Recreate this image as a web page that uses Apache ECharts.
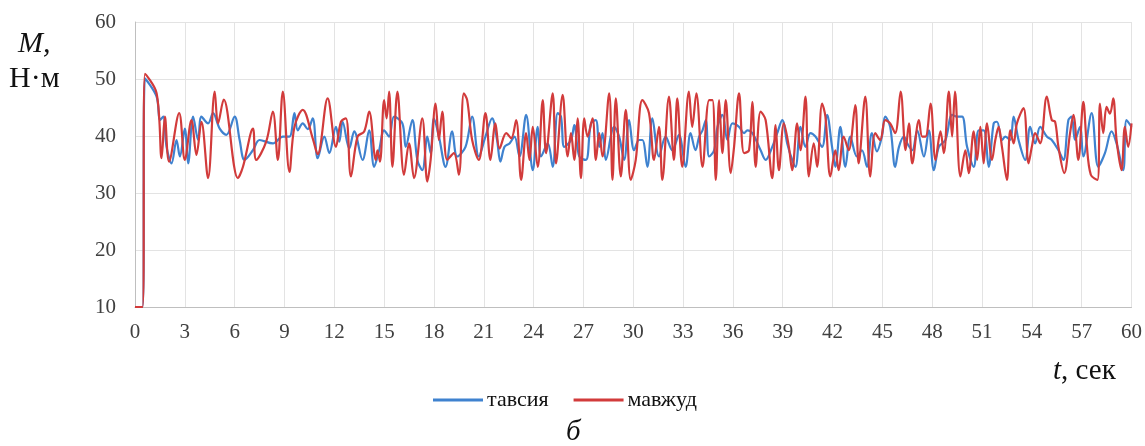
<!DOCTYPE html>
<html>
<head>
<meta charset="utf-8">
<script src="https://cdn.jsdelivr.net/npm/echarts@6/dist/echarts.min.js"></script>
<style>
html,body{margin:0;padding:0;background:#fff;}
#c{width:1145px;height:446px;}
</style>
</head>
<body>
<div id="c"></div>
<script>
const xTicks = [0,3,6,9,12,15,18,21,24,27,30,33,36,39,42,45,48,51,54,57,60];
const yTicks = [10,20,30,40,50,60];
const seriesNames = ['тавсия','мавжуд'];

const tBlue = [0,0.45,0.6,1.3,1.5,1.7,1.9,2.2,2.5,2.7,3.0,3.2,3.5,3.8,4.0,4.4,4.7,5.1,5.5,6.0,6.3,6.6,7.1,7.5,8.3,8.9,9.3,9.6,9.8,10.1,10.4,10.7,11.0,11.4,11.7,12.1,12.3,12.5,12.9,13.2,13.7,14.1,14.4,14.7,15.0,15.3,15.6,16.1,16.3,16.7,17.0,17.3,17.6,17.8,18.0,18.3,18.7,19.1,19.4,19.9,20.3,20.7,21.1,21.5,21.8,22.0,22.25,22.55,22.85,23.15,23.55,23.95,24.25,24.45,24.85,25.15,25.45,25.65,25.85,26.25,26.45,26.75,27.15,27.45,27.75,27.95,28.15,28.35,28.85,29.15,29.45,29.75,30.05,30.35,30.55,30.85,31.15,31.55,31.95,32.35,32.75,33.15,33.45,33.75,33.97,34.17,34.37,34.57,34.87,35.07,35.37,35.67,35.97,36.37,36.67,36.87,37.17,37.67,37.97,38.37,38.67,38.97,39.27,39.57,39.77,40.07,40.37,40.67,40.97,41.37,41.67,41.97,42.17,42.47,42.77,43.07,43.47,43.77,44.07,44.37,44.67,44.97,45.17,45.47,45.77,46.0,46.3,46.5,46.8,47.1,47.5,47.8,48.1,48.4,48.8,49.2,49.5,49.8,50.1,50.5,50.8,51.1,51.4,51.7,51.9,52.2,52.4,52.7,52.9,53.2,53.6,53.9,54.2,54.5,54.9,55.2,55.6,55.9,56.2,56.4,56.6,56.9,57.1,57.6,58.0,58.4,58.8,59.1,59.5,59.7,60];
const vBlue = [10,10,50.1,46.9,42.8,43.4,38.1,35.2,39.3,36.4,41.3,35.2,43.4,39.3,43.4,42.2,44,41.3,40.2,43.4,39.3,35.8,37.5,39.3,38.7,39.9,39.9,44,41,42.2,41.2,43.1,36.1,39.9,37,41.6,39,42.5,37.8,40.8,35.8,41,34.6,37.5,41,39.9,43.4,42.2,38.1,42.8,35.8,34,39.9,37,43.1,39.9,34.6,40.8,36.4,38.1,43.4,36.4,39.9,43.1,39.3,35.5,38.1,38.7,39.9,36.4,43.7,34,41.6,36.4,38.7,34.6,44,43.4,38.1,39.3,41.9,36.4,35.8,42.2,42.8,38.1,40.5,35.8,41.6,39.9,35.8,42.8,37.5,39.3,39.3,34.6,43.1,36.4,39.9,37.5,40.2,34.6,40.5,37.5,39.9,41,42.8,36.4,37.5,41.6,43.7,39.3,42.2,41.6,40.5,41,40.5,37.5,35.8,38.1,40.5,42.8,38.7,35.8,34.6,41.6,38.1,40.5,39.9,38.1,43.7,38.1,34.6,41.6,34.6,39.9,36.4,37.5,34.6,40.5,37.3,39.9,43.4,41.6,34.6,38.1,39.9,38.7,37.5,41,36.4,41,34,38.1,39.3,43.7,43.4,43.4,38.1,34.6,41,41,34.6,42.2,42.5,39.3,39.9,39.3,43.4,39.3,35.8,41.6,38.7,41.6,39.9,39.3,37.5,35.8,42.8,43.4,39.3,41.6,36.4,44,34.6,37,40.8,38.7,34,42.8,41.6];

const tRed = [0,0.45,0.6,1.3,1.6,1.8,2.05,2.66,3.0,3.4,3.7,4.0,4.4,4.8,5.0,5.34,6.2,6.5,7.1,7.3,7.9,8.3,8.6,8.9,9.3,9.6,10.1,10.7,11.0,11.6,12.1,12.4,12.7,13.0,13.4,13.8,14.1,14.5,14.6,14.75,15.0,15.15,15.3,15.5,15.8,16.2,16.5,16.8,17.3,17.6,17.8,18.1,18.3,18.5,18.8,19.2,19.5,19.8,20.0,20.3,20.7,21.1,21.4,21.7,21.95,22.35,22.65,22.95,23.25,23.55,23.75,23.95,24.25,24.55,24.75,25.15,25.35,25.75,26.05,26.25,26.45,26.65,26.85,27.05,27.25,27.55,27.75,27.95,28.15,28.55,28.75,28.95,29.25,29.55,29.85,30.15,30.55,30.95,31.25,31.55,31.75,32.15,32.45,32.65,32.95,33.35,33.55,33.8,34.17,34.57,34.77,34.97,35.17,35.37,35.57,35.87,36.07,36.37,36.67,36.97,37.17,37.37,37.67,37.97,38.37,38.57,38.77,39.07,39.37,39.57,39.87,40.07,40.37,40.57,40.87,41.07,41.37,41.57,41.87,42.17,42.37,42.67,42.97,43.37,43.57,43.97,44.27,44.57,44.87,45.17,45.47,45.77,46.1,46.4,46.6,46.8,47.2,47.4,47.6,47.9,48.2,48.5,48.7,49.0,49.2,49.37,49.7,50.0,50.2,50.5,50.7,50.9,51.1,51.3,51.6,51.8,52.0,52.2,52.5,52.7,52.9,53.1,53.5,53.8,54.0,54.2,54.5,54.9,55.2,55.4,55.6,55.95,56.3,56.5,56.8,57.1,57.3,57.55,57.95,58.1,58.3,58.5,58.7,58.9,59.1,59.4,59.6,59.8,60];
const vRed = [10,10,50.9,47.5,36.1,43.4,35.5,44,35.8,42.8,36.7,42.5,32.6,47.8,42.2,46.4,32.6,34.6,41.3,35.8,39,44.3,35.8,47.8,33.7,41.6,44.6,39.6,36.8,46.6,38.1,42.5,43.1,32.9,39.9,40.8,44.3,35.8,37.5,35.5,46.3,43.1,47.8,34.6,47.8,33.2,38.7,32.6,43.1,32,35.8,45.7,39.3,44.3,35.8,37,33.2,47.5,46.3,39.3,35.8,44,35.8,42.2,37.8,40.5,39.6,42.8,32.3,40.5,35.8,41.6,34.6,46.3,37,47.5,35.2,47.2,36.4,40.5,35.8,43.1,32.6,43.1,39.9,43.1,35.8,40.5,36.4,47.5,32.3,46.6,32.9,44.6,32.3,35.8,46.3,44,35.8,41.6,32.3,46.9,35.8,46.6,34.6,47.8,41.6,47.5,34.6,46.3,46.3,32.3,46.3,37,46.3,33.5,38.1,47.5,37,37.5,46,34.6,44.3,42.8,32.6,41.9,34,42.2,38.1,34,42.2,37.5,46.9,32.9,38.7,34.6,45.7,43.4,32.9,37.5,34,39.9,37.5,45.4,35.2,46.9,32.9,40.5,39.3,42.8,42.2,40.5,47.8,37.5,42.2,35.2,42.8,39.9,39.9,45.7,35.8,40.8,37,47.8,39.9,47.8,32.9,37.5,33.5,40.8,35.8,41.6,35.2,42.2,35.8,39.3,41.6,38.1,32.3,41,38.7,42.2,44.9,35.2,38.1,40.5,38.7,46.9,42.8,42.5,38.1,33.5,40.5,43.7,35.8,46,38.7,33.2,32.3,45.7,40.5,45.1,43.9,46.6,39.3,34,41.6,38.1,42.2];

function pairs(t, v){ return t.map((x,i)=>[x, v[i]]); }

const chart = echarts.init(document.getElementById('c'), null, {renderer:'canvas'});
const serif = 'Liberation Serif, Times New Roman, serif';
chart.setOption({
  animation:false,
  backgroundColor:'#ffffff',
  grid:{left:135, right:12, top:22, bottom:139, containLabel:false},
  xAxis:{
    type:'value', min:0, max:60, interval:3,
    axisLine:{show:true, lineStyle:{color:'#bfbfbf', width:1}},
    axisTick:{show:false},
    axisLabel:{color:'#404040', fontFamily:serif, fontSize:21, margin:15,
      formatter:(v)=> xTicks.includes(v) ? String(v) : ''},
    splitLine:{show:true, lineStyle:{color:'#e3e3e3', width:1}}
  },
  yAxis:{
    type:'value', min:10, max:60, interval:10,
    axisLine:{show:true, lineStyle:{color:'#bfbfbf', width:1}},
    axisTick:{show:false},
    axisLabel:{color:'#404040', fontFamily:serif, fontSize:21, margin:19,
      formatter:(v)=> yTicks.includes(v) ? String(v) : ''},
    splitLine:{show:true, lineStyle:{color:'#e3e3e3', width:1}}
  },
  legend:{
    data:seriesNames, top:384, left:428,
    icon:'rect', itemWidth:50, itemHeight:3, itemGap:25,
    textStyle:{fontFamily:serif, fontSize:22, color:'#111', padding:[0,0,0,-1]}
  },
  graphic:[
    {type:'text', left:18, top:29, style:{text:'M,', font:'italic 30px "Liberation Serif"', fill:'#111'}},
    {type:'text', left:9, top:64, style:{text:'Н·м', font:'30px "Liberation Serif"', fill:'#111'}},
    {type:'text', left:1053, top:357, style:{text:'{i|t}, сек', font:'29px "Liberation Serif"', fill:'#111',
      rich:{i:{fontFamily:'Liberation Serif', fontStyle:'italic', fontSize:29, fill:'#111'}}}},
    {type:'text', left:566, top:418, style:{text:'б', font:'italic 29px "Liberation Serif"', fill:'#111'}}
  ],
  series:[
    {name:seriesNames[0], type:'line', data:pairs(tBlue,vBlue), showSymbol:false, symbol:'none',
      smooth:0.35, lineStyle:{color:'#3f82cf', width:2.2}, itemStyle:{color:'#3f82cf'}},
    {name:seriesNames[1], type:'line', data:pairs(tRed,vRed), showSymbol:false, symbol:'none',
      smooth:0.35, lineStyle:{color:'#d23b3b', width:2.2}, itemStyle:{color:'#d23b3b'}}
  ]
});
</script>
</body>
</html>
